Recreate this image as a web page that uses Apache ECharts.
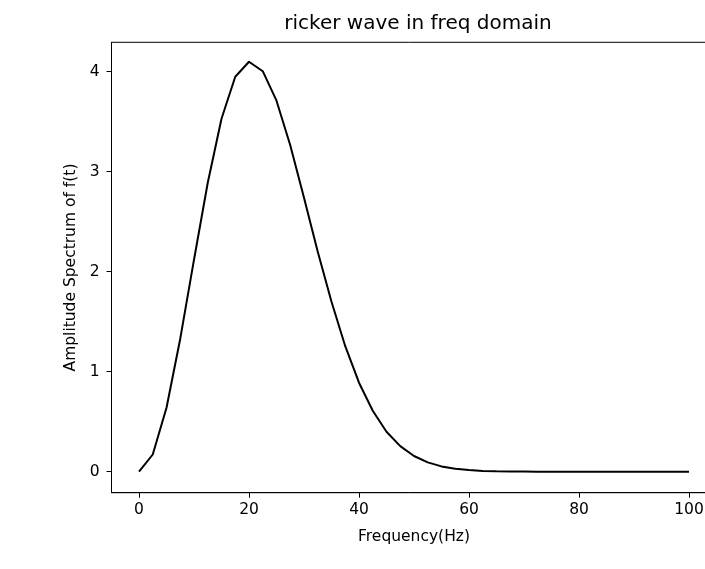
<!DOCTYPE html>
<html>
<head>
<meta charset="utf-8">
<script src="https://cdn.jsdelivr.net/npm/echarts@6/dist/echarts.min.js"></script>
<style>html,body{margin:0;padding:0;background:#fff}#c{width:705px;height:569px}</style>
</head>
<body>
<div id="c"></div>
<script>
const frequencies = [0, 2.5, 5, 7.5, 10, 12.5, 15, 17.5, 20, 22.5, 25, 27.5, 30, 32.5, 35, 37.5, 40, 42.5, 45, 47.5, 50, 52.5, 55, 57.5, 60, 62.5, 65, 67.5, 70, 72.5, 75, 77.5, 80, 82.5, 85, 87.5, 90, 92.5, 95, 97.5, 100];
const amplitudes = [0, 0.172, 0.64, 1.33, 2.12, 2.89, 3.53, 3.95, 4.10, 4.005, 3.71, 3.265, 2.74, 2.20, 1.70, 1.255, 0.89, 0.61, 0.40, 0.256, 0.157, 0.093, 0.053, 0.029, 0.016, 0.008, 0.004, 0.002, 0.001, 0, 0, 0, 0, 0, 0, 0, 0, 0, 0, 0, 0];
const xTicks = [0, 20, 40, 60, 80, 100];
const yTicks = [0, 1, 2, 3, 4];
const titleText = 'ricker wave in freq domain';
const xName = 'Frequency(Hz)';
const yName = 'Amplitude Spectrum of f(t)';

const chart = echarts.init(document.getElementById('c'), null, {renderer: 'canvas'});
const font = 'DejaVu Sans';
chart.setOption({
  animation: false,
  backgroundColor: '#fff',
  title: {
    text: titleText, left: 413, top: 9, textAlign: 'center',
    textStyle: {fontFamily: font, fontSize: 20, fontWeight: 'normal', color: '#000'}
  },
  grid: {left: 111.5, top: 42.3, width: 605, height: 450.4, show: true, borderColor: '#000', borderWidth: 1, containLabel: false, outerBoundsMode: 'none'},
  xAxis: {
    type: 'value', min: -5, max: 105,
    name: xName, nameLocation: 'middle', nameGap: 36,
    nameTextStyle: {fontFamily: font, fontSize: 15.5, color: '#000'},
    axisLine: {show: true, onZero: false, lineStyle: {color: '#000', width: 1}},
    axisTick: {show: true, length: 5, lineStyle: {color: '#000'}, customValues: xTicks},
    axisLabel: {fontFamily: font, fontSize: 15.5, color: '#000', margin: 9, customValues: xTicks},
    splitLine: {show: false}
  },
  yAxis: {
    type: 'value', min: -0.21, max: 4.294,
    name: yName, nameLocation: 'middle', nameGap: 30,
    nameTextStyle: {fontFamily: font, fontSize: 15.5, color: '#000'},
    axisLine: {show: true, onZero: false, lineStyle: {color: '#000', width: 1}},
    axisTick: {show: true, length: 5, lineStyle: {color: '#000'}, customValues: yTicks},
    axisLabel: {fontFamily: font, fontSize: 15.5, color: '#000', margin: 12, customValues: yTicks},
    splitLine: {show: false}
  },
  series: [{
    type: 'line',
    data: frequencies.map((f, i) => [f, amplitudes[i]]),
    showSymbol: false, symbol: 'none',
    lineStyle: {color: '#000', width: 2},
    clip: true
  }]
});
</script>
</body>
</html>
